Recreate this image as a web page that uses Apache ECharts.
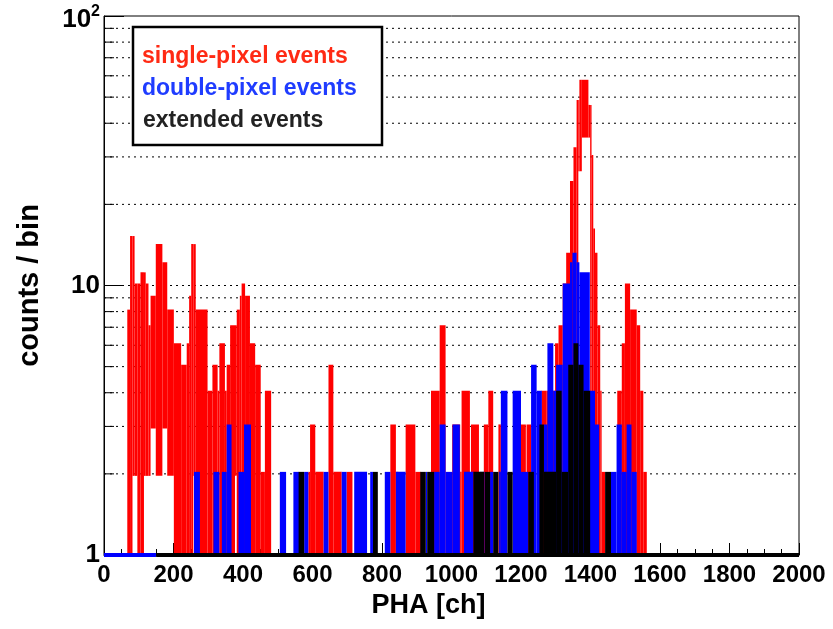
<!DOCTYPE html>
<html>
<head>
<meta charset="utf-8">
<script src="https://cdn.jsdelivr.net/npm/echarts@6/dist/echarts.min.js"></script>
<style>html,body{margin:0;padding:0;background:#fff;}#c{width:833px;height:629px;}</style>
</head>
<body>
<div id="c"></div>
<script>
// Histogram segments: [PHA from, PHA to, lower count, upper count]
const singlePixel = [
  [67,75,1,8],[75,82,1,15],[82,88,2,15],[88,96,2,10],[96,105,1,10],[105,115,1,11],
  [115,120,2,11],[120,128,2,10],[128,134,2,7],[134,149,3,9],[149,168,2,14],[168,182,3,12],
  [182,201,2,8],[201,222,1,6],[222,238,1,5],[238,245,1,6],[245,251,1,9],[251,257,1,14],
  [257,264,2,14],[264,298,1,8],[298,312,1,4],[312,327,1,5],[327,332,1,4],[332,348,1,6],
  [348,353,1,4],[353,363,1,5],[363,377,1,7],[377,382,2,7],[382,391,1,8],[391,396,1,9],
  [396,406,1,10],[406,420,1,9],[420,435,1,6],[435,451,1,5],[451,463,1,2],[463,481,1,4],
  [588,593,1,2],[593,608,1,3],[608,632,1,2],[646,660,1,5],[660,684,1,2],[698,715,1,2],
  [824,840,1,3],[840,847,1,2],[868,896,1,3],[896,912,1,2],[941,966,1,4],[966,983,1,7],
  [1002,1025,1,3],[1025,1029,1,2],[1029,1053,1,4],[1056,1079,1,3],[1093,1106,1,3],
  [1106,1120,1,4],[1135,1142,1,3],[1199,1214,1,3],[1216,1229,1,3],[1259,1274,1,4],
  [1274,1298,1,4],[1298,1308,1,6],[1308,1320,1,7],[1320,1330,1,10],[1330,1341,1,13],
  [1341,1351,1,24],[1351,1360,1,32],[1360,1365,1,48],[1365,1368,27,48],[1368,1375,27,57],
  [1375,1394,36,57],[1394,1399,36,46],[1399,1403,1,46],[1403,1408,1,30],[1408,1413,1,16],
  [1413,1420,1,13],[1420,1428,1,7],[1428,1432,1,4],[1432,1442,1,2],
  [1477,1490,1,4],[1490,1499,1,6],[1499,1514,1,10],[1514,1533,1,8],[1533,1543,1,7],
  [1543,1552,1,4],[1552,1562,1,2]
];
const doublePixel = [
  [0,150,1,1],[259,276,1,2],[315,332,1,2],[339,353,1,2],[353,367,1,3],[387,403,1,2],
  [403,423,1,3],[506,524,1,2],[545,562,1,2],[576,588,1,2],[632,646,1,2],[684,698,1,2],
  [720,757,1,2],[766,774,1,2],[808,824,1,2],[840,868,1,2],[926,930,1,2],[950,966,1,2],
  [966,983,1,3],[983,1003,1,2],[1003,1024,1,3],[1036,1063,1,2],[1082,1095,1,2],
  [1111,1120,1,2],[1137,1142,1,2],[1142,1161,1,4],[1176,1200,1,4],[1200,1221,1,2],
  [1229,1245,1,5],[1245,1260,1,4],[1266,1276,1,3],[1276,1293,1,6],[1293,1301,1,4],
  [1301,1320,1,5],[1320,1341,1,10],[1341,1348,1,12],[1348,1360,1,13],[1360,1368,1,12],
  [1368,1398,1,11],[1398,1413,1,4],[1413,1425,1,3],[1459,1475,1,2],[1475,1490,1,3],
  [1490,1504,1,2],[1504,1518,1,3],[1518,1533,1,2]
];
const extended = [
  [150,2000,1,1],[560,576,1,2],[774,788,1,2],[910,926,1,2],[930,950,1,2],[1063,1094,1,2],
  [1096,1111,1,2],[1120,1135,1,2],[1161,1176,1,2],[1221,1237,1,2],[1253,1266,1,3],
  [1266,1301,1,2],[1301,1317,1,4],[1317,1336,1,2],[1336,1351,1,5],[1351,1365,1,6],
  [1365,1380,1,5],[1380,1399,1,4],[1442,1459,1,2]
];
const yGridValues = [2,3,4,5,6,7,8,9,10,20,30,40,50,60,70,80,90];
const seriesNames = ['single-pixel events','double-pixel events','extended events'];

const FONT = '"Liberation Sans", Arial, Helvetica, sans-serif';
const chart = echarts.init(document.getElementById('c'), null, {renderer:'canvas'});

function histSeries(name, color, segs, z) {
  return {
    type: 'custom', name: name, z: z, coordinateSystem: 'cartesian2d',
    encode: { x: [0, 1], y: [2, 3] },
    data: segs, silent: true,
    renderItem: function (params, api) {
      const p0 = api.coord([api.value(0), api.value(3)]);
      const p1 = api.coord([api.value(1), api.value(2)]);
      const pad = 2;
      return { type: 'rect',
        shape: { x: p0[0], y: p0[1] - pad, width: p1[0] - p0[0], height: p1[1] - p0[1] + 2 * pad },
        style: { fill: color } };
    }
  };
}

const option = {
  backgroundColor: '#fff',
  animation: false,
  grid: { left: 104, right: 34, top: 16, bottom: 74, show: true, borderColor: '#000', borderWidth: 1, backgroundColor: 'transparent' },
  xAxis: {
    type: 'value', min: 0, max: 2000, interval: 200,
    axisLine: { show: true, lineStyle: { color: '#000', width: 1 } },
    axisTick: { show: true, inside: true, length: 12, lineStyle: { color: '#000', width: 1 } },
    minorTick: { show: true, splitNumber: 4, length: 6, lineStyle: { color: '#000', width: 1 } },
    splitLine: { show: false },
    axisLabel: { color: '#000', fontFamily: FONT, fontWeight: 'bold', fontSize: 24, margin: 8,
      formatter: function (v) { return String(v); } },
    name: 'PHA [ch]', nameLocation: 'middle', nameGap: 37,
    nameTextStyle: { color: '#000', fontFamily: FONT, fontWeight: 'bold', fontSize: 27, padding: [0, 46, 0, 0] }
  },
  yAxis: {
    type: 'log', logBase: 10, min: 1, max: 100,
    axisLine: { show: true, lineStyle: { color: '#000', width: 1 } },
    axisTick: { show: true, inside: true, length: 20, lineStyle: { color: '#000', width: 1 } },
    splitLine: { show: false },
    axisLabel: {
      color: '#000', fontFamily: FONT, fontWeight: 'bold', fontSize: 26, margin: 4,
      formatter: function (v) { return v >= 100 ? '{b|10}{s|2}' : String(v); },
      rich: {
        b: { fontFamily: FONT, fontWeight: 'bold', fontSize: 26, color: '#000', padding: [8, 0, 0, 0] },
        s: { fontFamily: FONT, fontWeight: 'bold', fontSize: 16, color: '#000', padding: [0, 0, 8, 0] }
      }
    },
    name: 'counts / bin', nameLocation: 'middle', nameGap: 60,
    nameTextStyle: { color: '#000', fontFamily: FONT, fontWeight: 'bold', fontSize: 29 }
  },
  series: [
    {
      type: 'custom', name: 'grid', z: 1, silent: true, coordinateSystem: 'cartesian2d',
      encode: { x: 0, y: 1 },
      data: yGridValues.map(function (v) { return [0, v]; }),
      renderItem: function (params, api) {
        const a = api.coord([0, api.value(1)]);
        const b = api.coord([2000, api.value(1)]);
        return { type: 'group', children: [
          { type: 'line', shape: { x1: a[0], y1: a[1], x2: b[0], y2: b[1] },
            style: { stroke: '#000', lineWidth: 1, lineDash: [2, 4] } },
          { type: 'line', shape: { x1: a[0], y1: a[1], x2: a[0] + 10, y2: a[1] },
            style: { stroke: '#000', lineWidth: 1 } }
        ]};
      }
    },
    histSeries(seriesNames[0], '#ff0000', singlePixel, 2),
    histSeries(seriesNames[1], '#0000ff', doublePixel, 3),
    histSeries(seriesNames[2], '#000000', extended, 4)
  ],
  graphic: [
    { type: 'rect', z: 100, zlevel: 1, shape: { x: 133, y: 27, width: 249, height: 118 },
      style: { fill: '#fff', stroke: '#000', lineWidth: 2.5 } },
    { type: 'text', z: 101, zlevel: 1, style: { text: seriesNames[0], x: 142, y: 57, fill: '#ff2a14', font: 'bold 23px ' + FONT, verticalAlign: 'middle' } },
    { type: 'text', z: 101, zlevel: 1, style: { text: seriesNames[1], x: 142, y: 89, fill: '#1f3cff', font: 'bold 23px ' + FONT, verticalAlign: 'middle' } },
    { type: 'text', z: 101, zlevel: 1, style: { text: seriesNames[2], x: 143, y: 121, fill: '#222222', font: 'bold 23px ' + FONT, verticalAlign: 'middle' } }
  ]
};
chart.setOption(option);
</script>
</body>
</html>
